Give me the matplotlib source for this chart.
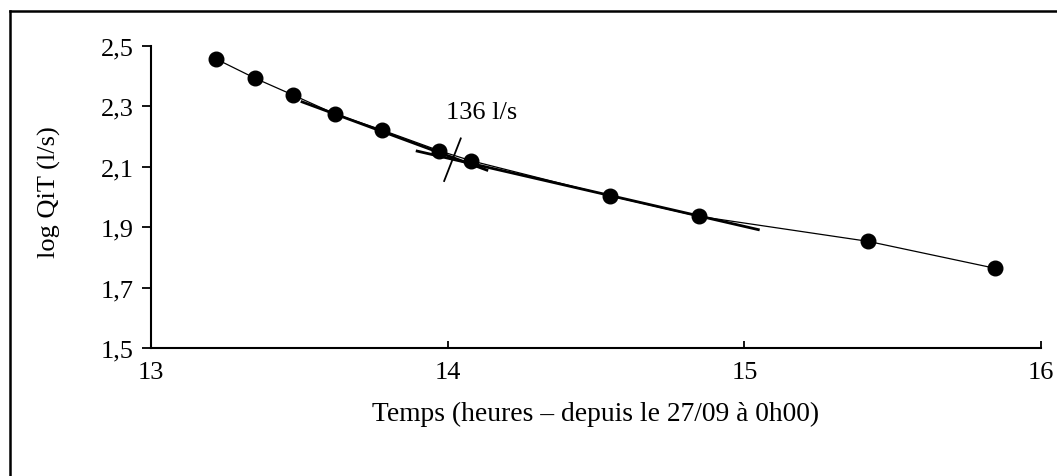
import matplotlib
matplotlib.use('Agg')
from matplotlib import pyplot as plt
from matplotlib.lines import Line2D

plt.rcParams['font.family'] = ['Liberation Serif', 'DejaVu Serif']

# mesures
temps = [13.219, 13.351, 13.480, 13.620, 13.778, 13.972, 14.079, 14.547, 14.847, 15.418, 15.845]
log_qit = [2.457, 2.393, 2.337, 2.275, 2.222, 2.153, 2.120, 2.004, 1.936, 1.853, 1.764]

# tangentes
tangente1_x = [13.509, 14.132]
tangente1_y = [2.315, 2.089]
tangente2_x = [13.897, 15.047]
tangente2_y = [2.152, 1.892]
# trait au point d'intersection
repere_x = [14.044, 13.988]
repere_y = [2.194, 2.053]

yticks = [1.5, 1.7, 1.9, 2.1, 2.3, 2.5]
yticklabels = ['1,5', '1,7', '1,9', '2,1', '2,3', '2,5']
xticks = [13, 14, 15, 16]

fig = plt.figure(figsize=(10.57, 4.77), dpi=100)
ax = fig.add_axes([0.1429, 0.2683, 0.842, 0.6332])

ax.plot(temps, log_qit, c='black', lw=0.9, marker='o', ms=10.5)
ax.plot(tangente1_x, tangente1_y, c='black', lw=2)
ax.plot(tangente2_x, tangente2_y, c='black', lw=2)
ax.plot(repere_x, repere_y, c='black', lw=1.3)
ax.text(14.116, 2.28, '136 l/s', fontsize=19, ha='center', va='center')

ax.set_xlim(13, 16)
ax.set_ylim(1.5, 2.5)
ax.set_xticks(xticks)
ax.set_yticks(yticks)
ax.set_yticklabels(yticklabels)
ax.spines['top'].set_visible(False)
ax.spines['right'].set_visible(False)
ax.spines['left'].set_linewidth(1.5)
ax.spines['bottom'].set_linewidth(1.5)
ax.tick_params(axis='y', direction='out', length=6.5, width=1.3, labelsize=19, pad=6)
ax.tick_params(axis='x', direction='in', length=5, width=1.3, labelsize=19, pad=9)
ax.set_xlabel('Temps (heures – depuis le 27/09 à 0h00)', fontsize=19.8)
ax.set_ylabel('log QiT (l/s)', fontsize=19)
ax.xaxis.set_label_coords(0.5, -0.175)
ax.yaxis.set_label_coords(-0.101, 0.52)

# cadre
fig.add_artist(Line2D([0.0095, 0.0095], [0, 0.975], transform=fig.transFigure, c='black', lw=1.8))
fig.add_artist(Line2D([0.0095, 1], [0.975, 0.975], transform=fig.transFigure, c='black', lw=1.8))

plt.savefig('out.png', dpi=100)
